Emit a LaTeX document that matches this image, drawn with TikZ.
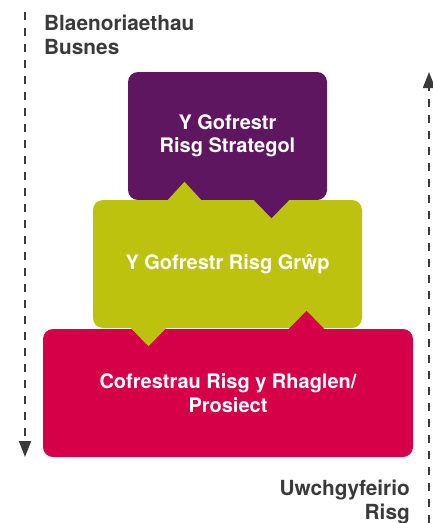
\documentclass[tikz,border=0pt]{standalone}
\usepackage{fontspec}
\setmainfont{TeX Gyre Heros}
\usetikzlibrary{arrows.meta}
\definecolor{stratcol}{HTML}{5E1660}
\definecolor{groupcol}{HTML}{BDC20F}
\definecolor{progcol}{HTML}{D50047}
\definecolor{labelcol}{HTML}{3A3A3A}
\tikzset{
	regbox/.style    = {shape=rectangle, rounded corners=10pt, align=center,
		text=white, minimum height=128pt, inner sep=0pt,
		font=\fontsize{20}{23.5}\selectfont\bfseries},
	stratbox/.style  = {regbox, fill=stratcol, minimum width=199pt},
	groupbox/.style  = {regbox, fill=groupcol, minimum width=269pt},
	progbox/.style   = {regbox, fill=progcol, minimum width=370pt},
	sidelabel/.style = {inner sep=0pt, text=labelcol,
		font=\fontsize{20.8}{23.5}\selectfont\bfseries},
	flow/.style      = {draw=labelcol, line width=1.8pt,
		dash pattern=on 8pt off 8pt, -{Triangle[width=12pt,length=16pt]}}
}
\begin{document}
\begin{tikzpicture}[x=1pt, y=-1pt]
	\useasboundingbox (0,0) rectangle (432,523);
	% the three registers
	\node [stratbox] (strat) at (227.5,136) {Y Gofrestr\\Risg Strategol};
	\node [groupbox] (grp)   at (227.5,264) {Y Gofrestr Risg Grŵp};
	\node [progbox]  (prog)  at (228,393)   {Cofrestrau Risg y Rhaglen/\\Prosiect};
	% little pointers between the boxes
	\fill [stratcol] ([xshift=25.5pt,yshift=1pt]strat.south) -- ++(18.5,19) -- ++(18.5,-19) -- cycle;
	\fill [groupcol] ([xshift=-60.5pt,yshift=-1pt]grp.north) -- ++(17.5,-19) -- ++(17.5,19) -- cycle;
	\fill [groupcol] ([xshift=-97.5pt,yshift=1pt]grp.south) -- ++(18.5,19) -- ++(18.5,-19) -- cycle;
	\fill [progcol]  ([xshift=60pt,yshift=-1pt]prog.north) -- ++(18.5,-19) -- ++(18.5,19) -- cycle;
	% side labels
	\node [sidelabel, anchor=north west, align=left]  (prio) at (44,15)  {Blaenoriaethau\\Busnes};
	\node [sidelabel, anchor=north east, align=right] (esc)  at (410,480) {Uwchgyfeirio\\Risg};
	% dashed arrows
	\coordinate (ltop) at (25,12);
	\coordinate (lbot) at (25,457);
	\coordinate (rbot) at (429,523);
	\coordinate (rtop) at (429,72);
	\draw [flow] (ltop) -- (lbot);
	\draw [flow] (rbot) -- (rtop);
\end{tikzpicture}
\end{document}
